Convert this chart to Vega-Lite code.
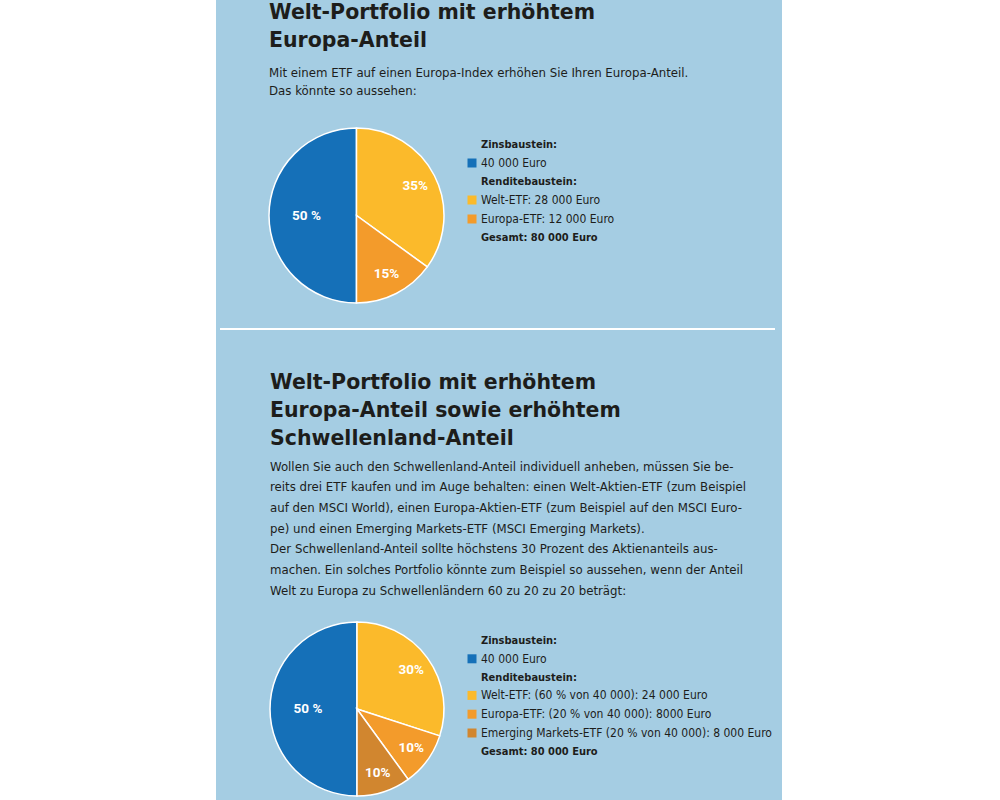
{
  "$schema": "https://vega.github.io/schema/vega-lite/v6.json",
  "background": "#a5cde3",
  "padding": 0,
  "spacing": 0,
  "config": {"view": {"stroke": null}, "concat": {"spacing": 0}},
  "resolve": {"scale": {"color": "independent", "theta": "independent"}, "legend": {"color": "independent"}},
  "hconcat": [
    {"width": 216, "height": 800, "data": {"values": [{}]}, "mark": {"type": "rect", "color": "white"}, "encoding": {}},
    {
      "spacing": 0,
      "resolve": {"scale": {"color": "independent", "theta": "independent"}, "legend": {"color": "independent"}},
      "vconcat": [
        {"width": 1, "height": 3, "data": {"values": [{}]}, "mark": {"type": "rect", "opacity": 0}, "encoding": {}},
        {
          "spacing": 0,
          "resolve": {"scale": {"color": "independent", "theta": "independent"}, "legend": {"color": "independent"}},
          "hconcat": [
            {"width": 50, "height": 1, "data": {"values": [{}]}, "mark": {"type": "rect", "opacity": 0}, "encoding": {}},
            {
              "width": 175, "height": 175,
              "title": {
                "text": ["Welt-Portfolio mit erhöhtem", "Europa-Anteil"],
                "subtitle": ["Mit einem ETF auf einen Europa-Index erhöhen Sie Ihren Europa-Anteil.", "Das könnte so aussehen:"],
                "anchor": "start", "frame": "group", "dx": 0,
                "font": "DejaVu Sans", "fontSize": 20.5, "fontWeight": "bold", "lineHeight": 28, "color": "#1d1d1b",
                "subtitleFont": "DejaVu Sans Condensed, sans-serif", "subtitleFontSize": 13.1, "subtitleLineHeight": 18, "subtitleColor": "#1d1d1b", "subtitlePadding": 15,
                "offset": 27
              },
              "data": {"values": [
                {"posten": "40 000 Euro", "anteil": 50, "prozent": "50 %"},
                {"posten": "Welt-ETF: 28 000 Euro", "anteil": 35, "prozent": "35%"},
                {"posten": "Europa-ETF: 12 000 Euro", "anteil": 15, "prozent": "15%"}
              ]},
              "encoding": {
                "theta": {"field": "anteil", "type": "quantitative", "stack": true},
                "order": {"field": "posten", "type": "ordinal", "sort": "descending"},
                "color": {
                  "field": "posten", "type": "nominal",
                  "scale": {
                    "domain": ["Zinsbaustein:", "40 000 Euro", "Renditebaustein:", "Welt-ETF: 28 000 Euro", "Europa-ETF: 12 000 Euro", "Gesamt: 80 000 Euro"],
                    "range": ["transparent", "#1570b8", "transparent", "#fbba2b", "#f39b2b", "transparent"]
                  },
                  "legend": {
                    "title": null, "orient": "none", "legendX": 197, "legendY": 11,
                    "symbolType": "square", "symbolSize": 81, "symbolStrokeWidth": 0,
                    "labelFont": "DejaVu Sans Condensed, sans-serif", "labelColor": "#1d1d1b", "labelLimit": 500, "labelOffset": 3, "rowPadding": 7,
                    "labelFontSize": {"expr": "indexof(['Zinsbaustein:', 'Renditebaustein:', 'Gesamt: 80 000 Euro'], datum.value) >= 0 ? 11 : 12"},
                    "labelFontWeight": {"expr": "indexof(['Zinsbaustein:', 'Renditebaustein:', 'Gesamt: 80 000 Euro'], datum.value) >= 0 ? 'bold' : 'normal'"}
                  }
                }
              },
              "layer": [
                {"mark": {"type": "arc", "outerRadius": 87.5, "stroke": "white", "strokeWidth": 1.5}},
                {"mark": {"type": "text", "radius": 50, "font": "Roboto", "fontSize": 13.5, "fontWeight": "bold"},
                 "encoding": {"color": {"value": "white"}, "text": {"condition": {"test": "datum.posten === '40 000 Euro'", "field": "prozent"}, "value": ""}}},
                {"mark": {"type": "text", "radius": 66, "font": "Roboto", "fontSize": 13.5, "fontWeight": "bold"},
                 "encoding": {"color": {"value": "white"}, "text": {"condition": {"test": "datum.posten !== '40 000 Euro'", "field": "prozent"}, "value": ""}}}
              ]
            }
          ]
        },
        {"width": 1, "height": 22, "data": {"values": [{}]}, "mark": {"type": "rect", "opacity": 0}, "encoding": {}},
        {
          "spacing": 0,
          "hconcat": [
            {"width": 4, "height": 2, "data": {"values": [{}]}, "mark": {"type": "rect", "opacity": 0}, "encoding": {}},
            {"width": 555, "height": 2, "data": {"values": [{}]}, "mark": {"type": "rect", "color": "white"}, "encoding": {}},
            {"width": 7, "height": 2, "data": {"values": [{}]}, "mark": {"type": "rect", "opacity": 0}, "encoding": {}}
          ]
        },
        {"width": 1, "height": 43, "data": {"values": [{}]}, "mark": {"type": "rect", "opacity": 0}, "encoding": {}},
        {
          "spacing": 0,
          "resolve": {"scale": {"color": "independent", "theta": "independent"}, "legend": {"color": "independent"}},
          "hconcat": [
            {"width": 51, "height": 1, "data": {"values": [{}]}, "mark": {"type": "rect", "opacity": 0}, "encoding": {}},
            {
              "width": 174, "height": 174,
              "title": {
                "text": ["Welt-Portfolio mit erhöhtem", "Europa-Anteil sowie erhöhtem", "Schwellenland-Anteil"],
                "subtitle": [
                  "Wollen Sie auch den Schwellenland-Anteil individuell anheben, müssen Sie be-",
                  "reits drei ETF kaufen und im Auge behalten: einen Welt-Aktien-ETF (zum Beispiel",
                  "auf den MSCI World), einen Europa-Aktien-ETF (zum Beispiel auf den MSCI Euro-",
                  "pe) und einen Emerging Markets-ETF (MSCI Emerging Markets).",
                  "Der Schwellenland-Anteil sollte höchstens 30 Prozent des Aktienanteils aus-",
                  "machen. Ein solches Portfolio könnte zum Beispiel so aussehen, wenn der Anteil",
                  "Welt zu Europa zu Schwellenländern 60 zu 20 zu 20 beträgt:"
                ],
                "anchor": "start", "frame": "group", "dx": 0,
                "font": "DejaVu Sans", "fontSize": 20.5, "fontWeight": "bold", "lineHeight": 28, "color": "#1d1d1b",
                "subtitleFont": "DejaVu Sans Condensed, sans-serif", "subtitleFontSize": 13.1, "subtitleLineHeight": 20.7, "subtitleColor": "#1d1d1b", "subtitlePadding": 11,
                "offset": 21
              },
              "data": {"values": [
                {"posten": "40 000 Euro", "anteil": 50, "prozent": "50 %"},
                {"posten": "Welt-ETF: (60 % von 40 000): 24 000 Euro", "anteil": 30, "prozent": "30%"},
                {"posten": "Europa-ETF: (20 % von 40 000): 8000 Euro", "anteil": 10, "prozent": "10%"},
                {"posten": "Emerging Markets-ETF (20 % von 40 000): 8 000 Euro", "anteil": 10, "prozent": "10%"}
              ]},
              "encoding": {
                "theta": {"field": "anteil", "type": "quantitative", "stack": true},
                "order": {"field": "posten", "type": "ordinal", "sort": "descending"},
                "color": {
                  "field": "posten", "type": "nominal",
                  "scale": {
                    "domain": ["Zinsbaustein:", "40 000 Euro", "Renditebaustein:", "Welt-ETF: (60 % von 40 000): 24 000 Euro", "Europa-ETF: (20 % von 40 000): 8000 Euro", "Emerging Markets-ETF (20 % von 40 000): 8 000 Euro", "Gesamt: 80 000 Euro"],
                    "range": ["transparent", "#1570b8", "transparent", "#fbba2b", "#f39b2b", "#d1862f", "transparent"]
                  },
                  "legend": {
                    "title": null, "orient": "none", "legendX": 196, "legendY": 13,
                    "symbolType": "square", "symbolSize": 81, "symbolStrokeWidth": 0,
                    "labelFont": "DejaVu Sans Condensed, sans-serif", "labelColor": "#1d1d1b", "labelLimit": 500, "labelOffset": 3, "rowPadding": 6.8,
                    "labelFontSize": {"expr": "indexof(['Zinsbaustein:', 'Renditebaustein:', 'Gesamt: 80 000 Euro'], datum.value) >= 0 ? 11 : 12"},
                    "labelFontWeight": {"expr": "indexof(['Zinsbaustein:', 'Renditebaustein:', 'Gesamt: 80 000 Euro'], datum.value) >= 0 ? 'bold' : 'normal'"}
                  }
                }
              },
              "layer": [
                {"mark": {"type": "arc", "outerRadius": 87, "stroke": "white", "strokeWidth": 1.5}},
                {"mark": {"type": "text", "radius": 49, "font": "Roboto", "fontSize": 13.5, "fontWeight": "bold"},
                 "encoding": {"color": {"value": "white"}, "text": {"condition": {"test": "datum.posten === '40 000 Euro'", "field": "prozent"}, "value": ""}}},
                {"mark": {"type": "text", "radius": 67, "font": "Roboto", "fontSize": 13.5, "fontWeight": "bold"},
                 "encoding": {"color": {"value": "white"}, "text": {"condition": {"test": "datum.posten !== '40 000 Euro'", "field": "prozent"}, "value": ""}}}
              ]
            }
          ]
        }
      ]
    },
    {"width": 218, "height": 800, "data": {"values": [{}]}, "mark": {"type": "rect", "color": "white"}, "encoding": {}}
  ]
}
